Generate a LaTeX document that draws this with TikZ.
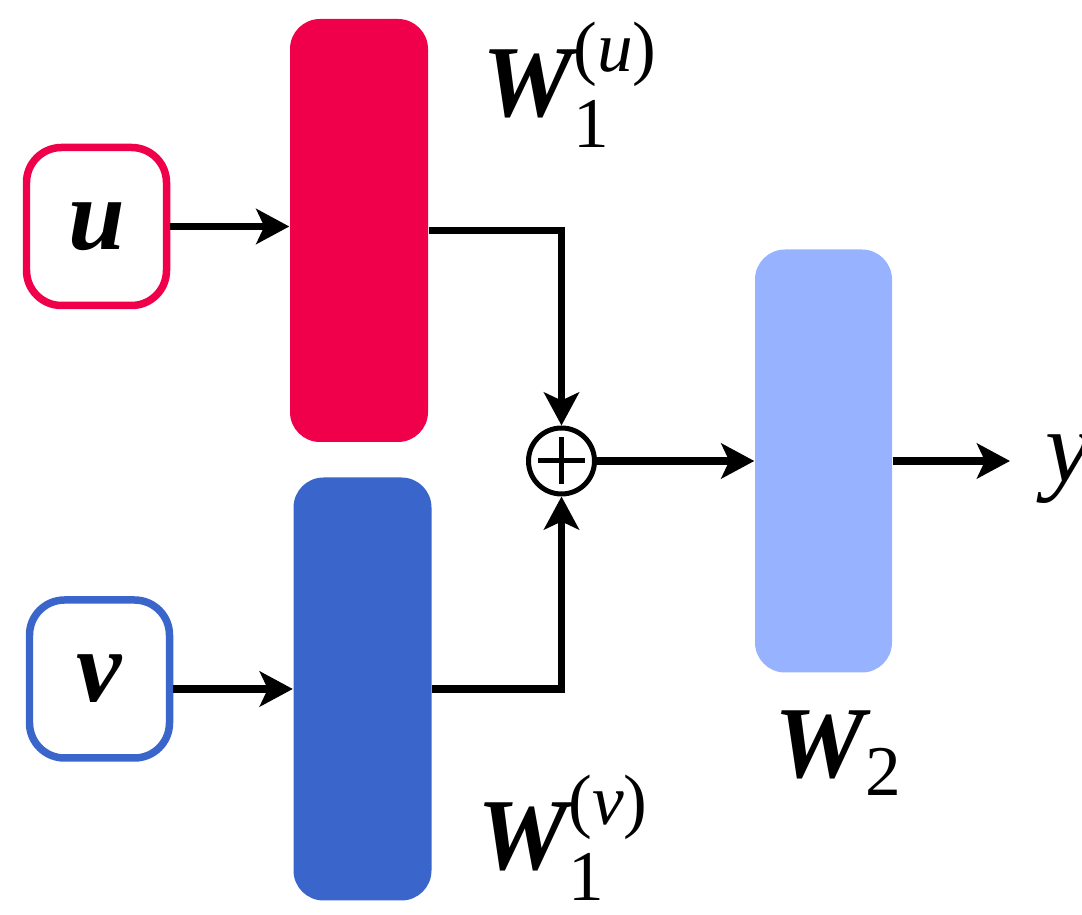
\documentclass[tikz,border=0pt]{standalone}
\usepackage{amsmath}
\usepackage{fontspec}
\setmainfont{Liberation Serif}
\usepackage{xcolor}
\usetikzlibrary{arrows.meta,positioning,calc}

\definecolor{embred}{HTML}{F0004A}
\definecolor{embblue}{HTML}{3A66CC}
\definecolor{outblue}{HTML}{97B3FF}

\begin{document}
\begin{tikzpicture}[
    inbox/.style={draw, line width=0.075cm, rounded corners=0.35cm, minimum width=1.40cm, minimum height=1.58cm, fill=white, font=\fontsize{29}{34}\selectfont\bfseries\itshape},
    layer/.style={rectangle, rounded corners=0.3cm, minimum width=1.38cm, minimum height=4.23cm, inner sep=0pt},
    sumnode/.style={circle, draw, line width=0.05cm, minimum size=0.66cm, inner sep=0pt,
        path picture={\draw[line width=0.05cm] (path picture bounding box.center) +(-0.235,0) -- +(0.235,0) +(0,-0.235) -- +(0,0.235);}},
    lbl/.style={inner sep=0pt, font=\fontsize{29}{34}\selectfont},
    arr/.style={-{Stealth[length=0.33cm, width=0.35cm, inset=0.08cm]}, line width=0.075cm},
]
\useasboundingbox (0,0) rectangle (10.82,9.15);

% Inputs
\node[inbox, draw=embred] (u) at (0.965, 6.885) {u};
\node[inbox, draw=embblue] (v) at (0.995, 2.36) {v};

% Layers
\node[layer, fill=embred] (w1u) at (3.59, 6.845) {};
\node[layer, fill=embblue] (w1v) at (3.625, 2.26) {};
\node[layer, fill=outblue, minimum width=1.37cm] (w2) at (8.235, 4.54) {};

% Sum
\node[sumnode] (sum) at (5.615, 4.54) {};

% Labels
\node[lbl, anchor=base west] (w1ulbl) at (4.82, 7.98) {{\bfseries\itshape W}$_{\text{1}}^{\text{(\textit{u})}}$};
\node[lbl, anchor=base west] (w1vlbl) at (4.77, 0.45) {{\bfseries\itshape W}$_{\text{1}}^{\text{(\textit{v})}}$};
\node[lbl, anchor=base west] (w2lbl) at (7.74, 1.37) {{\bfseries\itshape W}$_{\text{2}}$};
\node[lbl, anchor=base west] (yout) at (10.45, 4.33) {\itshape y};
\coordinate (yend) at (10.10, 4.54);

% Connections
\draw[arr] (u.east) -- (u.east -| w1u.west);
\draw[arr] (v.east |- w1v.west) -- (w1v.west);
\draw[arr] (w1u.east) -| (sum.north);
\draw[arr] (w1v.east) -| (sum.south);
\draw[arr] (sum) -- (w2);
\draw[arr] (w2.east) -- (yend);

\end{tikzpicture}
\end{document}
